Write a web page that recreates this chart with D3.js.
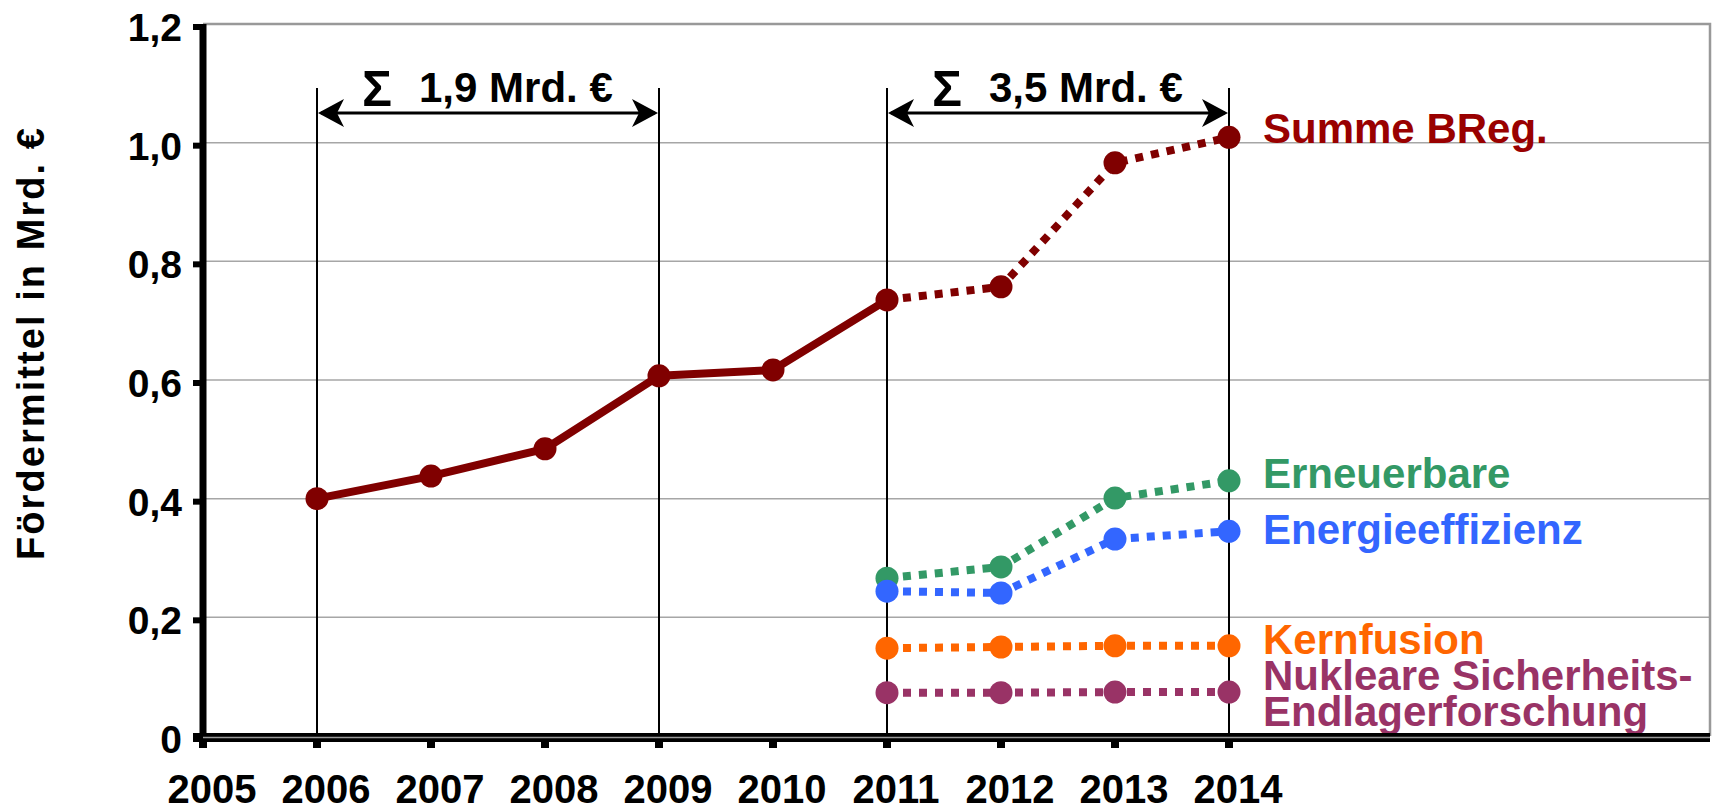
<!DOCTYPE html>
<meta charset='utf-8'>
<head>
    <title>Fördermittel</title>
    <script src='https://cdn.jsdelivr.net/npm/d3@7/dist/d3.min.js'></script>
</head>

<style>
    body { margin: 0; background: #fff; }
    text {
        font-family: 'Liberation Sans', Arial, sans-serif;
        font-weight: bold;
    }
    .grid { stroke: #a6a6a6; stroke-width: 1.5px; }
    .frame { stroke: #999; stroke-width: 2.5px; fill: none; }
    .marker-line { stroke: #000; stroke-width: 2px; }
</style>

<svg></svg>

<script>
    var vWidth = 1713;
    var vHeight = 811;

    // x categories and y ticks
    var years = [2005, 2006, 2007, 2008, 2009, 2010, 2011, 2012, 2013, 2014];
    var yTicks = [0, 0.2, 0.4, 0.6, 0.8, 1.0, 1.2];

    // Summe BReg. (solid until 2011, dotted afterwards)
    var summeYears = [2006, 2007, 2008, 2009, 2010, 2011, 2012, 2013, 2014];
    var summeValues = [0.400, 0.438, 0.484, 0.607, 0.617, 0.735, 0.757, 0.966, 1.009];
    var summeSolidUntil = 2011;

    // sub-series 2011-2014
    var laterYears = [2011, 2012, 2013, 2014];
    var erneuerbare = [0.266, 0.285, 0.401, 0.430];
    var effizienz = [0.244, 0.241, 0.332, 0.345];
    var kernfusion = [0.148, 0.150, 0.152, 0.152];
    var nukleare = [0.073, 0.073, 0.074, 0.074];

    // brackets: [from, to, label]
    var brackets = [[2006, 2009, '1,9 Mrd. €'], [2011, 2014, '3,5 Mrd. €']];

    var series = [
        {name: ['Erneuerbare'], values: erneuerbare, color: '#339966', labelY: 488},
        {name: ['Energieeffizienz'], values: effizienz, color: '#3366ff', labelY: 544},
        {name: ['Kernfusion'], values: kernfusion, color: '#ff6600', labelY: 654},
        {name: ['Nukleare Sicherheits-', 'Endlagerforschung'], values: nukleare, color: '#993366', labelY: 690}
    ];

    var svg = d3.select('svg').attr('width', vWidth).attr('height', vHeight);

    var x = d3.scaleLinear().domain([2005, 2014]).range([203, 1229]);
    var y = d3.scaleLinear().domain([0, 1.2]).range([736, 24]);
    var plotRight = 1710;

    // gridlines + frame
    svg.append('g').selectAll('line').data(yTicks.filter(function (d) { return d > 0 && d < 1.2; }))
        .enter().append('line').attr('class', 'grid')
        .attr('x1', x(2005)).attr('x2', plotRight)
        .attr('y1', function (d) { return y(d); }).attr('y2', function (d) { return y(d); });
    svg.append('path').attr('class', 'frame')
        .attr('d', 'M' + x(2005) + ',' + y(1.2) + 'H' + plotRight + 'V' + y(0));

    // bracket verticals
    var vYears = [];
    brackets.forEach(function (b) { vYears.push(b[0], b[1]); });
    svg.append('g').selectAll('line').data(vYears).enter().append('line')
        .attr('class', 'marker-line')
        .attr('x1', function (d) { return x(d); }).attr('x2', function (d) { return x(d); })
        .attr('y1', 88).attr('y2', y(0));

    // bracket arrows + labels
    var arrowY = 113;
    var gb = svg.append('g').selectAll('g').data(brackets).enter().append('g');
    gb.append('line')
        .attr('x1', function (d) { return x(d[0]) + 4; }).attr('x2', function (d) { return x(d[1]) - 4; })
        .attr('y1', arrowY).attr('y2', arrowY)
        .attr('stroke', '#000').attr('stroke-width', 3);
    gb.append('path').attr('fill', '#000')
        .attr('d', function (d) {
            var a = x(d[0]) + 1, b = x(d[1]) - 1;
            return 'M' + a + ',' + arrowY + 'L' + (a + 26) + ',' + (arrowY - 14) + 'L' + (a + 19) + ',' + arrowY +
                'L' + (a + 26) + ',' + (arrowY + 14) + 'Z' +
                'M' + b + ',' + arrowY + 'L' + (b - 26) + ',' + (arrowY - 14) + 'L' + (b - 19) + ',' + arrowY +
                'L' + (b - 26) + ',' + (arrowY + 14) + 'Z';
        });
    gb.append('text').text('Σ')
        .attr('x', function (d) { return x(d[0]) + 45; }).attr('y', 106)
        .style('font-size', '50px');
    gb.append('text').text(function (d) { return d[2]; })
        .attr('x', function (d) { return x(d[0]) + 102; }).attr('y', 102)
        .style('font-size', '42px');

    // lines
    var line = d3.line().x(function (d) { return x(d[0]); }).y(function (d) { return y(d[1]); });
    var summe = summeYears.map(function (d, i) { return [d, summeValues[i]]; });

    svg.append('path')
        .attr('d', line(summe.filter(function (d) { return d[0] <= summeSolidUntil; })))
        .attr('fill', 'none').attr('stroke', '#800000').attr('stroke-width', 8)
        .attr('stroke-linejoin', 'round');
    svg.append('path')
        .attr('d', line(summe.filter(function (d) { return d[0] >= summeSolidUntil; })))
        .attr('fill', 'none').attr('stroke', '#800000').attr('stroke-width', 8)
        .attr('stroke-dasharray', '8,8');

    series.forEach(function (s) {
        var pts = laterYears.map(function (d, i) { return [d, s.values[i]]; });
        svg.append('path').attr('d', line(pts))
            .attr('fill', 'none').attr('stroke', s.color).attr('stroke-width', 8)
            .attr('stroke-dasharray', '8,8');
        svg.append('g').selectAll('circle').data(pts).enter().append('circle')
            .attr('cx', function (d) { return x(d[0]); }).attr('cy', function (d) { return y(d[1]); })
            .attr('r', 11.5).attr('fill', s.color);
        var t = svg.append('text').attr('fill', s.color).style('font-size', '42px');
        s.name.forEach(function (n, i) {
            t.append('tspan').attr('x', x(2014) + 34).attr('y', s.labelY + i * 36).text(n);
        });
    });

    svg.append('g').selectAll('circle').data(summe).enter().append('circle')
        .attr('cx', function (d) { return x(d[0]); }).attr('cy', function (d) { return y(d[1]); })
        .attr('r', 11.5).attr('fill', '#800000');
    svg.append('text').text('Summe BReg.')
        .attr('x', x(2014) + 34).attr('y', 143)
        .attr('fill', '#990000').style('font-size', '42px');

    // y axis
    var yAxis = svg.append('g');
    yAxis.append('line').attr('x1', x(2005)).attr('x2', x(2005))
        .attr('y1', y(1.2)).attr('y2', y(0) + 6)
        .attr('stroke', '#000').attr('stroke-width', 7);
    yAxis.selectAll('.tick').data(yTicks).enter().append('line')
        .attr('x1', x(2005) - 10).attr('x2', x(2005))
        .attr('y1', function (d) { return y(d) + 3; }).attr('y2', function (d) { return y(d) + 3; })
        .attr('stroke', '#000').attr('stroke-width', 6);
    yAxis.selectAll('text').data(yTicks).enter().append('text')
        .attr('x', 182).attr('y', function (d) { return y(d) + 17; })
        .attr('text-anchor', 'end').style('font-size', '39px')
        .text(function (d) { return d === 0 ? '0' : d3.format('.1f')(d).replace('.', ','); });

    // x axis
    var xAxis = svg.append('g');
    xAxis.append('rect').attr('x', x(2005) - 10).attr('y', 733)
        .attr('width', plotRight - x(2005) + 10).attr('height', 9).attr('fill', '#000');
    xAxis.append('line').attr('x1', x(2005)).attr('x2', plotRight)
        .attr('y1', 737.5).attr('y2', 737.5).attr('stroke', '#9a9a9a').attr('stroke-width', 1.5);
    xAxis.selectAll('rect.tk').data(years).enter().append('rect').attr('class', 'tk')
        .attr('x', function (d) { return x(d) - 4; }).attr('y', 742)
        .attr('width', 8).attr('height', 6).attr('fill', '#000');
    xAxis.selectAll('text').data(years).enter().append('text')
        .attr('x', function (d) { return x(d) + 9; }).attr('y', 803)
        .attr('text-anchor', 'middle').style('font-size', '40px')
        .text(function (d) { return d; });

    // y title
    svg.append('text').text('Fördermittel in Mrd. €')
        .attr('transform', 'translate(44,344) rotate(-90)')
        .attr('text-anchor', 'middle').style('font-size', '38px')
        .attr('textLength', 432).attr('lengthAdjust', 'spacing');
</script>
